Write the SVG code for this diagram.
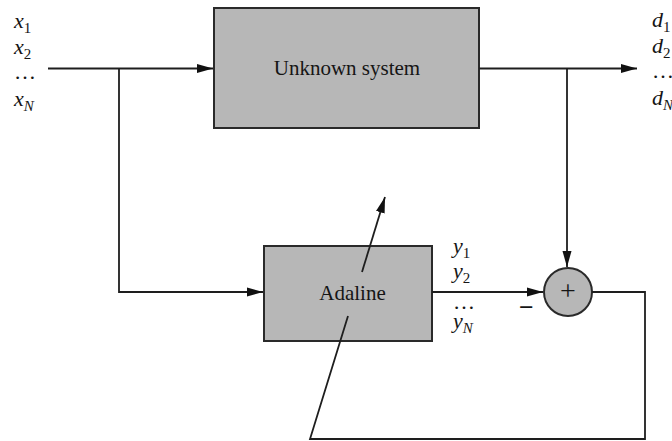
<svg xmlns="http://www.w3.org/2000/svg" width="672" height="441" viewBox="0 0 672 441">
<style>
.box{fill:#b7b7b7;stroke:#2a2a2a;stroke-width:2}
.ln{fill:none;stroke:#1e1e1e;stroke-width:1.8}
text{fill:#151515;font-family:'Liberation Serif','Times New Roman','DejaVu Serif',Times,serif}
.lab{font-style:italic;font-size:22px}
.sub{font-style:normal;font-size:15px}
.subi{font-style:italic;font-size:15px}
.dots{font-style:normal;font-size:22px}
</style>
<defs>
<marker id="ah" markerUnits="userSpaceOnUse" markerWidth="16" markerHeight="10" refX="16" refY="5" orient="auto">
<path d="M0,0.5 L16,5 L0,9.5 z" fill="#111"/>
</marker>
</defs>
<g id="unknown-system">
<rect class="box" x="214" y="8" width="265" height="120"/>
<text x="347" y="75" font-size="21" text-anchor="middle">Unknown system</text>
</g>
<g id="adaline">
<rect class="box" x="264" y="246" width="168" height="95"/>
<text x="352.5" y="300" font-size="21" text-anchor="middle">Adaline</text>
</g>
<g id="sum">
<circle class="box" cx="568" cy="292" r="24"/>
<text x="568" y="300" font-size="28" text-anchor="middle">+</text>
</g>
<g id="connectors">
<path class="ln" d="M48,68.5 H213" marker-end="url(#ah)"/>
<path class="ln" d="M119,68.5 V292 H263" marker-end="url(#ah)"/>
<path class="ln" d="M479,68.5 H637" marker-end="url(#ah)"/>
<path class="ln" d="M567,68.5 V267" marker-end="url(#ah)"/>
<path class="ln" d="M432,292 H543" marker-end="url(#ah)"/>
<path class="ln" d="M592,292 H645 V439 H310 L348,316"/>
<path class="ln" d="M362,272 L385,197" marker-end="url(#ah)"/>
</g>
<g id="minus-label">
<text x="526.5" y="316" font-size="26" text-anchor="middle" font-weight="bold">−</text>
</g>
<g id="x-labels">
<text class="lab" x="14" y="28">x<tspan class="sub" dy="5">1</tspan></text>
<text class="lab" x="14" y="54">x<tspan class="sub" dy="5">2</tspan></text>
<text class="dots" x="14" y="79">…</text>
<text class="lab" x="14" y="106">x<tspan class="subi" dy="5">N</tspan></text>
</g>
<g id="d-labels">
<text class="lab" x="652" y="27">d<tspan class="sub" dy="5">1</tspan></text>
<text class="lab" x="652" y="53">d<tspan class="sub" dy="5">2</tspan></text>
<text class="dots" x="652" y="78">…</text>
<text class="lab" x="652" y="105">d<tspan class="subi" dy="5">N</tspan></text>
</g>
<g id="y-labels">
<text class="lab" x="453" y="253">y<tspan class="sub" dy="5">1</tspan></text>
<text class="lab" x="453" y="278">y<tspan class="sub" dy="5">2</tspan></text>
<text class="dots" x="453" y="309">…</text>
<text class="lab" x="453" y="328">y<tspan class="subi" dy="5">N</tspan></text>
</g>
</svg>
